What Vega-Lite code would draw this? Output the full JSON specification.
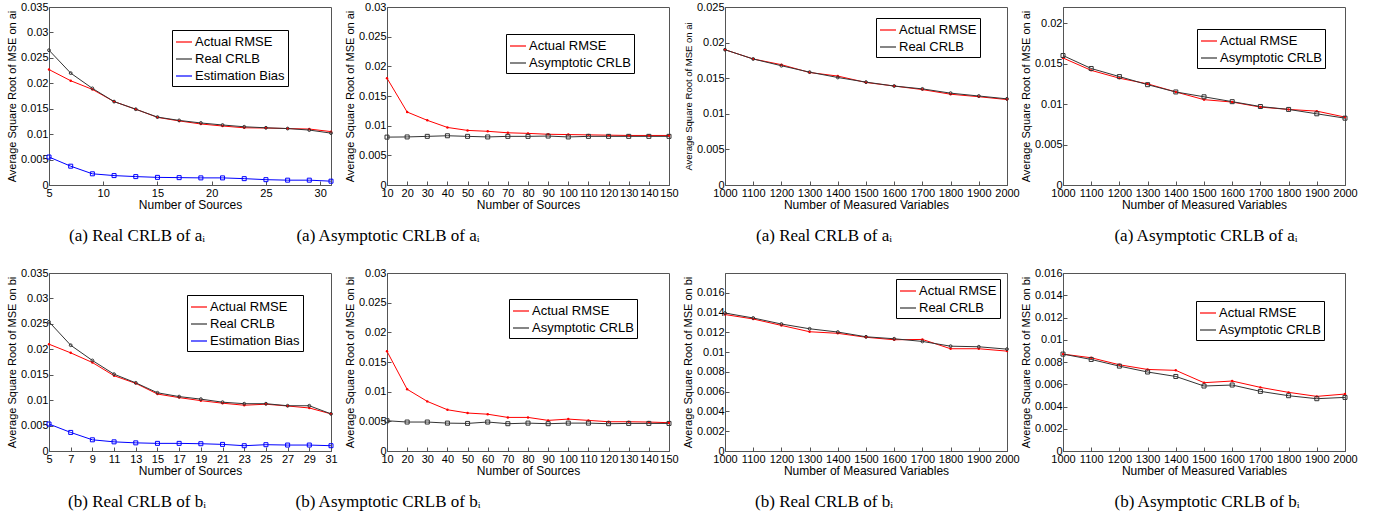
{
  "$schema": "https://vega.github.io/schema/vega-lite/v6.json",
  "padding": {"left": 5, "top": 0, "right": 5, "bottom": 0},
  "background": "white",
  "datasets": {
    "p1": [
      {"x":5,"series":"Actual RMSE","value":0.0227},{"x":7,"series":"Actual RMSE","value":0.0205},{"x":9,"series":"Actual RMSE","value":0.0188},{"x":11,"series":"Actual RMSE","value":0.0164},{"x":13,"series":"Actual RMSE","value":0.0149},{"x":15,"series":"Actual RMSE","value":0.0133},{"x":17,"series":"Actual RMSE","value":0.0126},{"x":19,"series":"Actual RMSE","value":0.0120},{"x":21,"series":"Actual RMSE","value":0.0116},{"x":23,"series":"Actual RMSE","value":0.01125},{"x":25,"series":"Actual RMSE","value":0.0112},{"x":27,"series":"Actual RMSE","value":0.0111},{"x":29,"series":"Actual RMSE","value":0.0110},{"x":31,"series":"Actual RMSE","value":0.0105},
      {"x":5,"series":"Real CRLB","value":0.0265},{"x":7,"series":"Real CRLB","value":0.0220},{"x":9,"series":"Real CRLB","value":0.0190},{"x":11,"series":"Real CRLB","value":0.0164},{"x":13,"series":"Real CRLB","value":0.0149},{"x":15,"series":"Real CRLB","value":0.01335},{"x":17,"series":"Real CRLB","value":0.0127},{"x":19,"series":"Real CRLB","value":0.0122},{"x":21,"series":"Real CRLB","value":0.0118},{"x":23,"series":"Real CRLB","value":0.01145},{"x":25,"series":"Real CRLB","value":0.01125},{"x":27,"series":"Real CRLB","value":0.0111},{"x":29,"series":"Real CRLB","value":0.0108},{"x":31,"series":"Real CRLB","value":0.0102},
      {"x":5,"series":"Estimation Bias","value":0.0055},{"x":7,"series":"Estimation Bias","value":0.0037},{"x":9,"series":"Estimation Bias","value":0.0022},{"x":11,"series":"Estimation Bias","value":0.00185},{"x":13,"series":"Estimation Bias","value":0.00165},{"x":15,"series":"Estimation Bias","value":0.0015},{"x":17,"series":"Estimation Bias","value":0.00145},{"x":19,"series":"Estimation Bias","value":0.0014},{"x":21,"series":"Estimation Bias","value":0.0014},{"x":23,"series":"Estimation Bias","value":0.00125},{"x":25,"series":"Estimation Bias","value":0.00105},{"x":27,"series":"Estimation Bias","value":0.00095},{"x":29,"series":"Estimation Bias","value":0.00095},{"x":31,"series":"Estimation Bias","value":0.00075}
    ],
    "p2": [
      {"x":10,"series":"Actual RMSE","value":0.0180},{"x":20,"series":"Actual RMSE","value":0.0123},{"x":30,"series":"Actual RMSE","value":0.0109},{"x":40,"series":"Actual RMSE","value":0.0097},{"x":50,"series":"Actual RMSE","value":0.0092},{"x":60,"series":"Actual RMSE","value":0.00905},{"x":70,"series":"Actual RMSE","value":0.0088},{"x":80,"series":"Actual RMSE","value":0.0087},{"x":90,"series":"Actual RMSE","value":0.00855},{"x":100,"series":"Actual RMSE","value":0.0085},{"x":110,"series":"Actual RMSE","value":0.00845},{"x":120,"series":"Actual RMSE","value":0.0084},{"x":130,"series":"Actual RMSE","value":0.00835},{"x":140,"series":"Actual RMSE","value":0.00835},{"x":150,"series":"Actual RMSE","value":0.00835},
      {"x":10,"series":"Asymptotic CRLB","value":0.00807},{"x":20,"series":"Asymptotic CRLB","value":0.0081},{"x":30,"series":"Asymptotic CRLB","value":0.0082},{"x":40,"series":"Asymptotic CRLB","value":0.0083},{"x":50,"series":"Asymptotic CRLB","value":0.0082},{"x":60,"series":"Asymptotic CRLB","value":0.0081},{"x":70,"series":"Asymptotic CRLB","value":0.0082},{"x":80,"series":"Asymptotic CRLB","value":0.0082},{"x":90,"series":"Asymptotic CRLB","value":0.00825},{"x":100,"series":"Asymptotic CRLB","value":0.0081},{"x":110,"series":"Asymptotic CRLB","value":0.0082},{"x":120,"series":"Asymptotic CRLB","value":0.0082},{"x":130,"series":"Asymptotic CRLB","value":0.0082},{"x":140,"series":"Asymptotic CRLB","value":0.0082},{"x":150,"series":"Asymptotic CRLB","value":0.0082}
    ],
    "p3": [
      {"x":1000,"series":"Actual RMSE","value":0.0190},{"x":1100,"series":"Actual RMSE","value":0.0177},{"x":1200,"series":"Actual RMSE","value":0.0169},{"x":1300,"series":"Actual RMSE","value":0.0158},{"x":1400,"series":"Actual RMSE","value":0.0153},{"x":1500,"series":"Actual RMSE","value":0.0144},{"x":1600,"series":"Actual RMSE","value":0.0139},{"x":1700,"series":"Actual RMSE","value":0.0134},{"x":1800,"series":"Actual RMSE","value":0.01275},{"x":1900,"series":"Actual RMSE","value":0.0124},{"x":2000,"series":"Actual RMSE","value":0.0120},
      {"x":1000,"series":"Real CRLB","value":0.0190},{"x":1100,"series":"Real CRLB","value":0.0177},{"x":1200,"series":"Real CRLB","value":0.01675},{"x":1300,"series":"Real CRLB","value":0.01585},{"x":1400,"series":"Real CRLB","value":0.0151},{"x":1500,"series":"Real CRLB","value":0.01445},{"x":1600,"series":"Real CRLB","value":0.0139},{"x":1700,"series":"Real CRLB","value":0.0135},{"x":1800,"series":"Real CRLB","value":0.0129},{"x":1900,"series":"Real CRLB","value":0.0125},{"x":2000,"series":"Real CRLB","value":0.0121}
    ],
    "p4": [
      {"x":1000,"series":"Actual RMSE","value":0.0157},{"x":1100,"series":"Actual RMSE","value":0.01417},{"x":1200,"series":"Actual RMSE","value":0.0132},{"x":1300,"series":"Actual RMSE","value":0.0125},{"x":1400,"series":"Actual RMSE","value":0.0115},{"x":1500,"series":"Actual RMSE","value":0.01055},{"x":1600,"series":"Actual RMSE","value":0.01025},{"x":1700,"series":"Actual RMSE","value":0.00963},{"x":1800,"series":"Actual RMSE","value":0.00934},{"x":1900,"series":"Actual RMSE","value":0.00913},{"x":2000,"series":"Actual RMSE","value":0.00839},
      {"x":1000,"series":"Asymptotic CRLB","value":0.0160},{"x":1100,"series":"Asymptotic CRLB","value":0.0144},{"x":1200,"series":"Asymptotic CRLB","value":0.0134},{"x":1300,"series":"Asymptotic CRLB","value":0.0124},{"x":1400,"series":"Asymptotic CRLB","value":0.0115},{"x":1500,"series":"Asymptotic CRLB","value":0.0109},{"x":1600,"series":"Asymptotic CRLB","value":0.0103},{"x":1700,"series":"Asymptotic CRLB","value":0.0097},{"x":1800,"series":"Asymptotic CRLB","value":0.00934},{"x":1900,"series":"Asymptotic CRLB","value":0.0088},{"x":2000,"series":"Asymptotic CRLB","value":0.00826}
    ],
    "p5": [
      {"x":5,"series":"Actual RMSE","value":0.0210},{"x":7,"series":"Actual RMSE","value":0.0193},{"x":9,"series":"Actual RMSE","value":0.0174},{"x":11,"series":"Actual RMSE","value":0.0148},{"x":13,"series":"Actual RMSE","value":0.0133},{"x":15,"series":"Actual RMSE","value":0.0112},{"x":17,"series":"Actual RMSE","value":0.0105},{"x":19,"series":"Actual RMSE","value":0.0099},{"x":21,"series":"Actual RMSE","value":0.0094},{"x":23,"series":"Actual RMSE","value":0.0090},{"x":25,"series":"Actual RMSE","value":0.0092},{"x":27,"series":"Actual RMSE","value":0.00885},{"x":29,"series":"Actual RMSE","value":0.00846},{"x":31,"series":"Actual RMSE","value":0.0073},
      {"x":5,"series":"Real CRLB","value":0.0254},{"x":7,"series":"Real CRLB","value":0.0208},{"x":9,"series":"Real CRLB","value":0.0178},{"x":11,"series":"Real CRLB","value":0.0151},{"x":13,"series":"Real CRLB","value":0.0134},{"x":15,"series":"Real CRLB","value":0.01145},{"x":17,"series":"Real CRLB","value":0.0107},{"x":19,"series":"Real CRLB","value":0.0102},{"x":21,"series":"Real CRLB","value":0.0096},{"x":23,"series":"Real CRLB","value":0.0093},{"x":25,"series":"Real CRLB","value":0.0093},{"x":27,"series":"Real CRLB","value":0.0089},{"x":29,"series":"Real CRLB","value":0.0089},{"x":31,"series":"Real CRLB","value":0.0073},
      {"x":5,"series":"Estimation Bias","value":0.0053},{"x":7,"series":"Estimation Bias","value":0.00365},{"x":9,"series":"Estimation Bias","value":0.0022},{"x":11,"series":"Estimation Bias","value":0.0018},{"x":13,"series":"Estimation Bias","value":0.0016},{"x":15,"series":"Estimation Bias","value":0.0015},{"x":17,"series":"Estimation Bias","value":0.0015},{"x":19,"series":"Estimation Bias","value":0.00143},{"x":21,"series":"Estimation Bias","value":0.0013},{"x":23,"series":"Estimation Bias","value":0.00104},{"x":25,"series":"Estimation Bias","value":0.00124},{"x":27,"series":"Estimation Bias","value":0.00117},{"x":29,"series":"Estimation Bias","value":0.00117},{"x":31,"series":"Estimation Bias","value":0.00104}
    ],
    "p6": [
      {"x":10,"series":"Actual RMSE","value":0.0168},{"x":20,"series":"Actual RMSE","value":0.0104},{"x":30,"series":"Actual RMSE","value":0.00836},{"x":40,"series":"Actual RMSE","value":0.00695},{"x":50,"series":"Actual RMSE","value":0.0064},{"x":60,"series":"Actual RMSE","value":0.0062},{"x":70,"series":"Actual RMSE","value":0.00566},{"x":80,"series":"Actual RMSE","value":0.00566},{"x":90,"series":"Actual RMSE","value":0.00516},{"x":100,"series":"Actual RMSE","value":0.00538},{"x":110,"series":"Actual RMSE","value":0.00516},{"x":120,"series":"Actual RMSE","value":0.00493},{"x":130,"series":"Actual RMSE","value":0.00493},{"x":140,"series":"Actual RMSE","value":0.00488},{"x":150,"series":"Actual RMSE","value":0.00477},
      {"x":10,"series":"Asymptotic CRLB","value":0.0051},{"x":20,"series":"Asymptotic CRLB","value":0.00488},{"x":30,"series":"Asymptotic CRLB","value":0.00488},{"x":40,"series":"Asymptotic CRLB","value":0.0047},{"x":50,"series":"Asymptotic CRLB","value":0.00465},{"x":60,"series":"Asymptotic CRLB","value":0.00488},{"x":70,"series":"Asymptotic CRLB","value":0.0046},{"x":80,"series":"Asymptotic CRLB","value":0.0047},{"x":90,"series":"Asymptotic CRLB","value":0.0046},{"x":100,"series":"Asymptotic CRLB","value":0.0047},{"x":110,"series":"Asymptotic CRLB","value":0.0047},{"x":120,"series":"Asymptotic CRLB","value":0.0046},{"x":130,"series":"Asymptotic CRLB","value":0.00465},{"x":140,"series":"Asymptotic CRLB","value":0.00465},{"x":150,"series":"Asymptotic CRLB","value":0.00465}
    ],
    "p7": [
      {"x":1000,"series":"Actual RMSE","value":0.0138},{"x":1100,"series":"Actual RMSE","value":0.01335},{"x":1200,"series":"Actual RMSE","value":0.0127},{"x":1300,"series":"Actual RMSE","value":0.01206},{"x":1400,"series":"Actual RMSE","value":0.0119},{"x":1500,"series":"Actual RMSE","value":0.0115},{"x":1600,"series":"Actual RMSE","value":0.01125},{"x":1700,"series":"Actual RMSE","value":0.01128},{"x":1800,"series":"Actual RMSE","value":0.01034},{"x":1900,"series":"Actual RMSE","value":0.01034},{"x":2000,"series":"Actual RMSE","value":0.0101},
      {"x":1000,"series":"Real CRLB","value":0.01395},{"x":1100,"series":"Real CRLB","value":0.01345},{"x":1200,"series":"Real CRLB","value":0.01284},{"x":1300,"series":"Real CRLB","value":0.01236},{"x":1400,"series":"Real CRLB","value":0.01203},{"x":1500,"series":"Real CRLB","value":0.01155},{"x":1600,"series":"Real CRLB","value":0.01135},{"x":1700,"series":"Real CRLB","value":0.01108},{"x":1800,"series":"Real CRLB","value":0.0106},{"x":1900,"series":"Real CRLB","value":0.01054},{"x":2000,"series":"Real CRLB","value":0.0103}
    ],
    "p8": [
      {"x":1000,"series":"Actual RMSE","value":0.00871},{"x":1100,"series":"Actual RMSE","value":0.00838},{"x":1200,"series":"Actual RMSE","value":0.00775},{"x":1300,"series":"Actual RMSE","value":0.00733},{"x":1400,"series":"Actual RMSE","value":0.00725},{"x":1500,"series":"Actual RMSE","value":0.00614},{"x":1600,"series":"Actual RMSE","value":0.00629},{"x":1700,"series":"Actual RMSE","value":0.00572},{"x":1800,"series":"Actual RMSE","value":0.00527},{"x":1900,"series":"Actual RMSE","value":0.00491},{"x":2000,"series":"Actual RMSE","value":0.00512},
      {"x":1000,"series":"Asymptotic CRLB","value":0.00871},{"x":1100,"series":"Asymptotic CRLB","value":0.00823},{"x":1200,"series":"Asymptotic CRLB","value":0.00763},{"x":1300,"series":"Asymptotic CRLB","value":0.0071},{"x":1400,"series":"Asymptotic CRLB","value":0.0067},{"x":1500,"series":"Asymptotic CRLB","value":0.00584},{"x":1600,"series":"Asymptotic CRLB","value":0.00593},{"x":1700,"series":"Asymptotic CRLB","value":0.00536},{"x":1800,"series":"Asymptotic CRLB","value":0.00497},{"x":1900,"series":"Asymptotic CRLB","value":0.0047},{"x":2000,"series":"Asymptotic CRLB","value":0.00482}
    ]
  },
  "columns": 4,
  "bounds": "flush",
  "spacing": {"row": 88, "column": 56},
  "resolve": {
    "scale": {"color": "independent", "x": "independent", "y": "independent"},
    "legend": {"color": "independent"}
  },
  "concat": [
    {
      "width": 282, "height": 178,
      "data": {"name": "p1"},
      "title": {"text": "(a) Real CRLB of aᵢ", "dx": -53},
      "encoding": {
        "x": {"field": "x", "type": "quantitative", "scale": {"domain": [5, 31], "nice": false, "zero": false}, "axis": {"values": [5, 10, 15, 20, 25, 30], "title": "Number of Sources"}},
        "y": {"field": "value", "type": "quantitative", "scale": {"domain": [0, 0.035], "nice": false}, "axis": {"values": [0, 0.005, 0.01, 0.015, 0.02, 0.025, 0.03, 0.035], "format": ".3~f", "title": "Average Square Root of MSE on ai"}}
      },
      "layer": [
        {"mark": {"type": "line", "strokeWidth": 1}, "encoding": {"color": {"field": "series", "type": "nominal", "scale": {"domain": ["Actual RMSE", "Real CRLB", "Estimation Bias"], "range": ["#ff0000", "#333333", "#0000ff"]}, "legend": {"title": null, "symbolType": "stroke", "legendX": 123, "legendY": 23}}}},
        {"transform": [{"filter": {"field": "series", "equal": "Actual RMSE"}}], "mark": {"type": "point", "filled": true, "color": "#ff0000", "size": 6, "opacity": 1}},
        {"transform": [{"filter": {"field": "series", "equal": "Real CRLB"}}], "mark": {"type": "point", "filled": false, "color": "#333333", "size": 8, "strokeWidth": 1, "opacity": 1}},
        {"transform": [{"filter": {"field": "series", "equal": "Estimation Bias"}}], "mark": {"type": "point", "shape": "square", "filled": false, "color": "#0000ff", "size": 16, "strokeWidth": 1, "opacity": 1}}
      ]
    },
    {
      "width": 282, "height": 178,
      "data": {"name": "p2"},
      "title": {"text": "(a) Asymptotic CRLB of aᵢ", "dx": -140},
      "encoding": {
        "x": {"field": "x", "type": "quantitative", "scale": {"domain": [10, 150], "nice": false, "zero": false}, "axis": {"values": [10, 20, 30, 40, 50, 60, 70, 80, 90, 100, 110, 120, 130, 140, 150], "title": "Number of Sources"}},
        "y": {"field": "value", "type": "quantitative", "scale": {"domain": [0, 0.03], "nice": false}, "axis": {"values": [0, 0.005, 0.01, 0.015, 0.02, 0.025, 0.03], "format": ".3~f", "title": "Average Square Root of MSE on ai"}}
      },
      "layer": [
        {"mark": {"type": "line", "strokeWidth": 1}, "encoding": {"color": {"field": "series", "type": "nominal", "scale": {"domain": ["Actual RMSE", "Asymptotic CRLB"], "range": ["#ff0000", "#333333"]}, "legend": {"title": null, "symbolType": "stroke", "legendX": 119, "legendY": 27}}}},
        {"transform": [{"filter": {"field": "series", "equal": "Actual RMSE"}}], "mark": {"type": "point", "filled": true, "color": "#ff0000", "size": 6, "opacity": 1}},
        {"transform": [{"filter": {"field": "series", "equal": "Asymptotic CRLB"}}], "mark": {"type": "point", "shape": "square", "filled": false, "color": "#333333", "size": 16, "strokeWidth": 1, "opacity": 1}}
      ]
    },
    {
      "width": 282, "height": 178,
      "data": {"name": "p3"},
      "title": {"text": "(a) Real CRLB of aᵢ", "dx": -42},
      "encoding": {
        "x": {"field": "x", "type": "quantitative", "scale": {"domain": [1000, 2000], "nice": false, "zero": false}, "axis": {"values": [1000, 1100, 1200, 1300, 1400, 1500, 1600, 1700, 1800, 1900, 2000], "format": "d", "title": "Number of Measured Variables"}},
        "y": {"field": "value", "type": "quantitative", "scale": {"domain": [0, 0.025], "nice": false}, "axis": {"values": [0, 0.005, 0.01, 0.015, 0.02, 0.025], "format": ".3~f", "title": "Average Square Root of MSE on ai", "titleFontSize": 9.5}}
      },
      "layer": [
        {"mark": {"type": "line", "strokeWidth": 1}, "encoding": {"color": {"field": "series", "type": "nominal", "scale": {"domain": ["Actual RMSE", "Real CRLB"], "range": ["#ff0000", "#333333"]}, "legend": {"title": null, "symbolType": "stroke", "legendX": 151, "legendY": 11}}}},
        {"transform": [{"filter": {"field": "series", "equal": "Actual RMSE"}}], "mark": {"type": "point", "filled": true, "color": "#ff0000", "size": 6, "opacity": 1}},
        {"transform": [{"filter": {"field": "series", "equal": "Real CRLB"}}], "mark": {"type": "point", "filled": false, "color": "#333333", "size": 8, "strokeWidth": 1, "opacity": 1}}
      ]
    },
    {
      "width": 282, "height": 178,
      "data": {"name": "p4"},
      "title": {"text": "(a) Asymptotic CRLB of aᵢ", "dx": 2},
      "encoding": {
        "x": {"field": "x", "type": "quantitative", "scale": {"domain": [1000, 2000], "nice": false, "zero": false}, "axis": {"values": [1000, 1100, 1200, 1300, 1400, 1500, 1600, 1700, 1800, 1900, 2000], "format": "d", "title": "Number of Measured Variables"}},
        "y": {"field": "value", "type": "quantitative", "scale": {"domain": [0, 0.022], "nice": false}, "axis": {"values": [0, 0.005, 0.01, 0.015, 0.02], "format": ".3~f", "title": "Average Square Root of MSE on ai"}}
      },
      "layer": [
        {"mark": {"type": "line", "strokeWidth": 1}, "encoding": {"color": {"field": "series", "type": "nominal", "scale": {"domain": ["Actual RMSE", "Asymptotic CRLB"], "range": ["#ff0000", "#333333"]}, "legend": {"title": null, "symbolType": "stroke", "legendX": 134, "legendY": 22}}}},
        {"transform": [{"filter": {"field": "series", "equal": "Actual RMSE"}}], "mark": {"type": "point", "filled": true, "color": "#ff0000", "size": 6, "opacity": 1}},
        {"transform": [{"filter": {"field": "series", "equal": "Asymptotic CRLB"}}], "mark": {"type": "point", "shape": "square", "filled": false, "color": "#333333", "size": 16, "strokeWidth": 1, "opacity": 1}}
      ]
    },
    {
      "width": 282, "height": 178,
      "data": {"name": "p5"},
      "title": {"text": "(b) Real CRLB of bᵢ", "dx": -53},
      "encoding": {
        "x": {"field": "x", "type": "quantitative", "scale": {"domain": [5, 31], "nice": false, "zero": false}, "axis": {"values": [5, 7, 9, 11, 13, 15, 17, 19, 21, 23, 25, 27, 29, 31], "title": "Number of Sources"}},
        "y": {"field": "value", "type": "quantitative", "scale": {"domain": [0, 0.035], "nice": false}, "axis": {"values": [0, 0.005, 0.01, 0.015, 0.02, 0.025, 0.03, 0.035], "format": ".3~f", "title": "Average Square Root of MSE on bi"}}
      },
      "layer": [
        {"mark": {"type": "line", "strokeWidth": 1}, "encoding": {"color": {"field": "series", "type": "nominal", "scale": {"domain": ["Actual RMSE", "Real CRLB", "Estimation Bias"], "range": ["#ff0000", "#333333", "#0000ff"]}, "legend": {"title": null, "symbolType": "stroke", "legendX": 138, "legendY": 22}}}},
        {"transform": [{"filter": {"field": "series", "equal": "Actual RMSE"}}], "mark": {"type": "point", "filled": true, "color": "#ff0000", "size": 6, "opacity": 1}},
        {"transform": [{"filter": {"field": "series", "equal": "Real CRLB"}}], "mark": {"type": "point", "filled": false, "color": "#333333", "size": 8, "strokeWidth": 1, "opacity": 1}},
        {"transform": [{"filter": {"field": "series", "equal": "Estimation Bias"}}], "mark": {"type": "point", "shape": "square", "filled": false, "color": "#0000ff", "size": 16, "strokeWidth": 1, "opacity": 1}}
      ]
    },
    {
      "width": 282, "height": 178,
      "data": {"name": "p6"},
      "title": {"text": "(b) Asymptotic CRLB of bᵢ", "dx": -140},
      "encoding": {
        "x": {"field": "x", "type": "quantitative", "scale": {"domain": [10, 150], "nice": false, "zero": false}, "axis": {"values": [10, 20, 30, 40, 50, 60, 70, 80, 90, 100, 110, 120, 130, 140, 150], "title": "Number of Sources"}},
        "y": {"field": "value", "type": "quantitative", "scale": {"domain": [0, 0.03], "nice": false}, "axis": {"values": [0, 0.005, 0.01, 0.015, 0.02, 0.025, 0.03], "format": ".3~f", "title": "Average Square Root of MSE on bi"}}
      },
      "layer": [
        {"mark": {"type": "line", "strokeWidth": 1}, "encoding": {"color": {"field": "series", "type": "nominal", "scale": {"domain": ["Actual RMSE", "Asymptotic CRLB"], "range": ["#ff0000", "#333333"]}, "legend": {"title": null, "symbolType": "stroke", "legendX": 122, "legendY": 26}}}},
        {"transform": [{"filter": {"field": "series", "equal": "Actual RMSE"}}], "mark": {"type": "point", "filled": true, "color": "#ff0000", "size": 6, "opacity": 1}},
        {"transform": [{"filter": {"field": "series", "equal": "Asymptotic CRLB"}}], "mark": {"type": "point", "shape": "square", "filled": false, "color": "#333333", "size": 16, "strokeWidth": 1, "opacity": 1}}
      ]
    },
    {
      "width": 282, "height": 178,
      "data": {"name": "p7"},
      "title": {"text": "(b) Real CRLB of bᵢ", "dx": -42},
      "encoding": {
        "x": {"field": "x", "type": "quantitative", "scale": {"domain": [1000, 2000], "nice": false, "zero": false}, "axis": {"values": [1000, 1100, 1200, 1300, 1400, 1500, 1600, 1700, 1800, 1900, 2000], "format": "d", "title": "Number of Measured Variables"}},
        "y": {"field": "value", "type": "quantitative", "scale": {"domain": [0, 0.018], "nice": false}, "axis": {"values": [0, 0.002, 0.004, 0.006, 0.008, 0.01, 0.012, 0.014, 0.016], "format": ".3~f", "title": "Average Square Root of MSE on bi"}}
      },
      "layer": [
        {"mark": {"type": "line", "strokeWidth": 1}, "encoding": {"color": {"field": "series", "type": "nominal", "scale": {"domain": ["Actual RMSE", "Real CRLB"], "range": ["#ff0000", "#333333"]}, "legend": {"title": null, "symbolType": "stroke", "legendX": 171, "legendY": 6}}}},
        {"transform": [{"filter": {"field": "series", "equal": "Actual RMSE"}}], "mark": {"type": "point", "filled": true, "color": "#ff0000", "size": 6, "opacity": 1}},
        {"transform": [{"filter": {"field": "series", "equal": "Real CRLB"}}], "mark": {"type": "point", "filled": false, "color": "#333333", "size": 8, "strokeWidth": 1, "opacity": 1}}
      ]
    },
    {
      "width": 282, "height": 178,
      "data": {"name": "p8"},
      "title": {"text": "(b) Asymptotic CRLB of bᵢ", "dx": 3},
      "encoding": {
        "x": {"field": "x", "type": "quantitative", "scale": {"domain": [1000, 2000], "nice": false, "zero": false}, "axis": {"values": [1000, 1100, 1200, 1300, 1400, 1500, 1600, 1700, 1800, 1900, 2000], "format": "d", "title": "Number of Measured Variables"}},
        "y": {"field": "value", "type": "quantitative", "scale": {"domain": [0, 0.016], "nice": false}, "axis": {"values": [0, 0.002, 0.004, 0.006, 0.008, 0.01, 0.012, 0.014, 0.016], "format": ".3~f", "title": "Average Square Root of MSE on bi"}}
      },
      "layer": [
        {"mark": {"type": "line", "strokeWidth": 1}, "encoding": {"color": {"field": "series", "type": "nominal", "scale": {"domain": ["Actual RMSE", "Asymptotic CRLB"], "range": ["#ff0000", "#333333"]}, "legend": {"title": null, "symbolType": "stroke", "legendX": 133, "legendY": 28}}}},
        {"transform": [{"filter": {"field": "series", "equal": "Actual RMSE"}}], "mark": {"type": "point", "filled": true, "color": "#ff0000", "size": 6, "opacity": 1}},
        {"transform": [{"filter": {"field": "series", "equal": "Asymptotic CRLB"}}], "mark": {"type": "point", "shape": "square", "filled": false, "color": "#333333", "size": 16, "strokeWidth": 1, "opacity": 1}}
      ]
    }
  ],
  "config": {
    "view": {"stroke": "#555555", "strokeWidth": 1},
    "axis": {
      "grid": false, "domainColor": "#555555", "tickColor": "#555555", "tickSize": -4,
      "labelFont": "Liberation Sans", "labelFontSize": 11, "labelColor": "#000000",
      "titleFont": "Liberation Sans", "titleFontSize": 12, "titleFontWeight": "normal", "titleColor": "#000000"
    },
    "axisX": {"labelPadding": 6, "titlePadding": 1, "labelFlush": false, "labelOverlap": false},
    "axisY": {"labelPadding": 5, "titlePadding": 3, "titleFontSize": 11, "labelOverlap": false},
    "legend": {
      "orient": "none", "strokeColor": "#000000", "fillColor": "#ffffff", "padding": 3,
      "labelFont": "Liberation Sans", "labelFontSize": 13, "labelColor": "#000000", "labelLimit": 300,
      "symbolType": "stroke", "symbolSize": 256, "symbolStrokeWidth": 1.2, "rowPadding": 1, "labelOffset": 2
    },
    "title": {"font": "Liberation Serif", "fontSize": 17, "fontWeight": "normal", "color": "#000000", "orient": "bottom", "anchor": "middle", "offset": 18}
  }
}
